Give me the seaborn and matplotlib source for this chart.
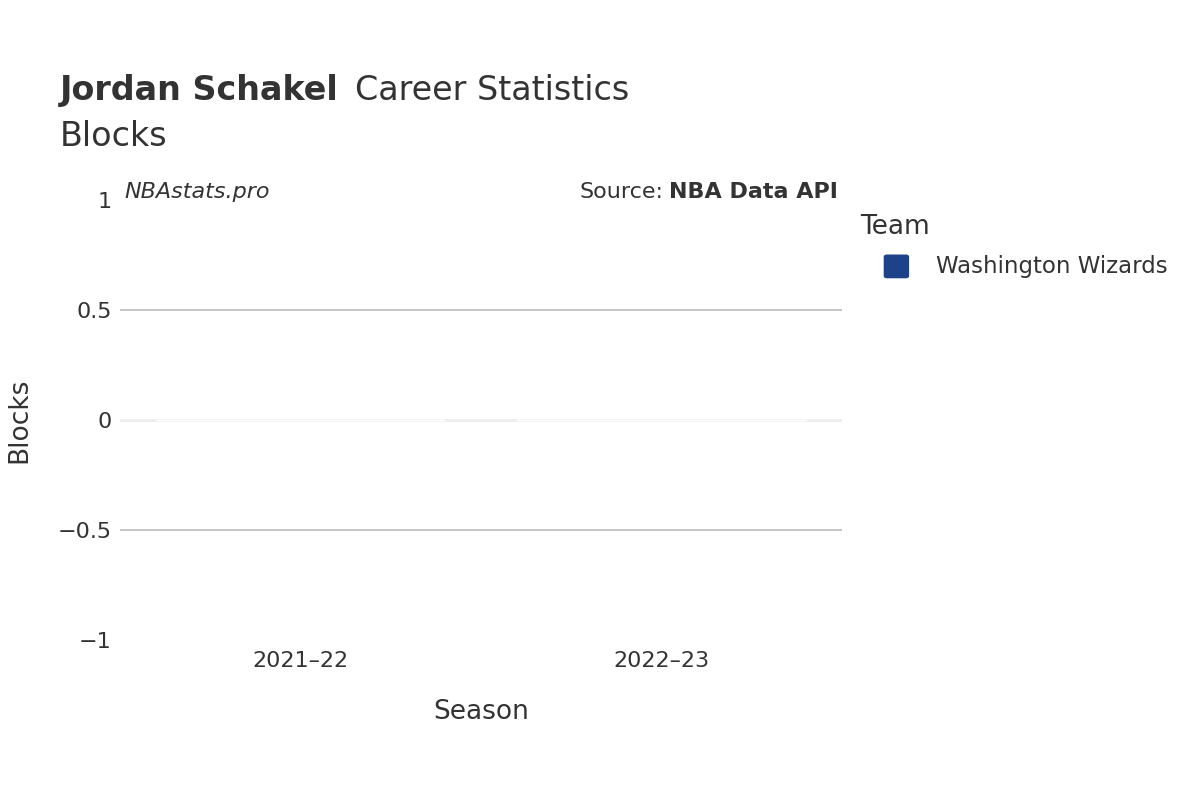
import matplotlib
matplotlib.use("Agg")
import matplotlib.pyplot as plt
import seaborn as sns
import pandas as pd

seasons = ["2021\u201322", "2022\u201323"]
blocks = [0, 0]
teams = ["Washington Wizards", "Washington Wizards"]
team_color = "#1d428a"

sns.set_style("white")
plt.rcParams['font.family'] = ['DejaVu Sans']
df = pd.DataFrame({"Season": seasons, "Blocks": blocks, "Team": teams})

fig = plt.figure(figsize=(12, 8), dpi=100)
ax = fig.add_axes([0.1, 0.2, 0.6017, 0.55])
sns.barplot(data=df, x="Season", y="Blocks", hue="Team", palette=[team_color], ax=ax, legend=False, width=0.8)
ax.set_ylim(-1, 1)
ax.set_xlim(-0.5, 1.5)
ax.set_yticks([-1, -0.5, 0, 0.5, 1])
ax.set_yticklabels(["\u22121", "\u22120.5", "0", "0.5", "1"])
for y in [-0.5, 0.5]:
    ax.axhline(y, color="#bbbbbb", lw=1.2, zorder=0)
ax.axhline(0, color="#eeeeee", lw=2, zorder=0)
for s in ax.spines.values():
    s.set_visible(False)
ax.tick_params(axis="both", length=0, labelsize=16, colors="#333333", pad=6)
ax.tick_params(axis="x", pad=8)
ax.set_xlabel("Season", fontsize=19, color="#333333", labelpad=20)
ax.set_ylabel("Blocks", fontsize=19, color="#333333", labelpad=18)

fig.text(0.05, 0.875, "Jordan Schakel", fontsize=24, fontweight="bold", color="#333333")
fig.text(0.296, 0.875, "Career Statistics", fontsize=24, color="#333333")
fig.text(0.05, 0.818, "Blocks", fontsize=24, color="#333333")
fig.text(0.104, 0.76, "NBAstats.pro", fontsize=16, style="italic", color="#333333", va="center")
bold = fig.text(0.698, 0.76, "NBA Data API", fontsize=16, fontweight="bold", color="#333333", va="center", ha="right")
fig.canvas.draw()
bb = bold.get_window_extent(fig.canvas.get_renderer())
fig.text(bb.x0 / fig.bbox.width - 0.004, 0.76, "Source:", fontsize=16, color="#333333", va="center", ha="right")

fig.text(0.717, 0.707, "Team", fontsize=19, color="#333333")
fig.patches.append(matplotlib.patches.FancyBboxPatch((0.739, 0.655), 0.016, 0.024, boxstyle="round,pad=0.002", transform=fig.transFigure, facecolor=team_color, edgecolor=team_color))
fig.text(0.78, 0.667, "Washington Wizards", fontsize=16.5, color="#333333", va="center")

fig.savefig("out.png", dpi=100)
